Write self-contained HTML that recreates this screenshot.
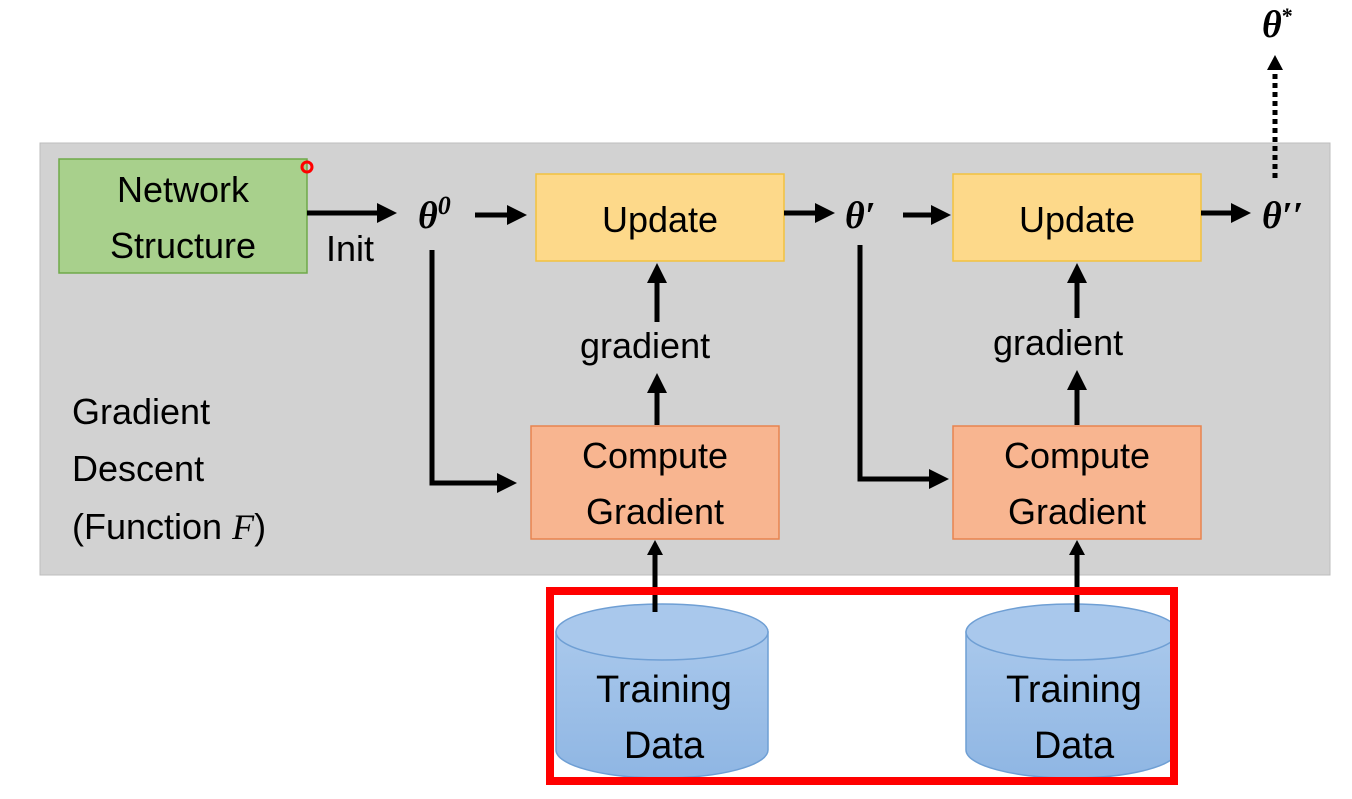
<!DOCTYPE html>
<html><head><meta charset="utf-8"><style>
html,body{margin:0;padding:0;background:#fff;}
svg{display:block;}
text{font-family:"Liberation Sans",sans-serif;fill:#000;}
.t{font-family:"Liberation Serif",serif;font-weight:bold;font-style:italic;}
</style></head><body>
<svg width="1352" height="799" viewBox="0 0 1352 799" xmlns="http://www.w3.org/2000/svg">
<defs>
<marker id="ah" markerWidth="4" markerHeight="4" refX="3" refY="2" orient="auto" markerUnits="strokeWidth">
<path d="M0,0 L4,2 L0,4 z" fill="#000"/></marker>
<linearGradient id="cyl" x1="0" x2="0" y1="0" y2="1"><stop offset="0" stop-color="#a9c8ec"/><stop offset="1" stop-color="#8fb6e3"/></linearGradient>
</defs>
<rect x="40" y="143" width="1290" height="432" fill="#d2d2d2" stroke="#bdbdbd"/>
<rect x="59" y="159" width="248" height="114" fill="#a8d08c" stroke="#6fa94a" stroke-width="1.5"/>
<text x="183" y="202" font-size="36" text-anchor="middle">Network</text>
<text x="183" y="258" font-size="36" text-anchor="middle">Structure</text>
<circle cx="307" cy="167" r="5" fill="none" stroke="#f00" stroke-width="3"/>
<rect x="536" y="174" width="248" height="87" fill="#fdd98a" stroke="#f2c140" stroke-width="1.5"/>
<text x="660" y="232" font-size="36" text-anchor="middle">Update</text>
<rect x="953" y="174" width="248" height="87" fill="#fdd98a" stroke="#f2c140" stroke-width="1.5"/>
<text x="1077" y="232" font-size="36" text-anchor="middle">Update</text>
<rect x="531" y="426" width="248" height="113" fill="#f8b590" stroke="#e8834f" stroke-width="1.5"/>
<text x="655" y="468" font-size="36" text-anchor="middle">Compute</text>
<text x="655" y="524" font-size="36" text-anchor="middle">Gradient</text>
<rect x="953" y="426" width="248" height="113" fill="#f8b590" stroke="#e8834f" stroke-width="1.5"/>
<text x="1077" y="468" font-size="36" text-anchor="middle">Compute</text>
<text x="1077" y="524" font-size="36" text-anchor="middle">Gradient</text>
<text x="72" y="424" font-size="36">Gradient</text>
<text x="72" y="481" font-size="36">Descent</text>
<text x="72" y="539" font-size="36">(Function <tspan font-family="Liberation Serif" font-style="italic">F</tspan>)</text>
<text x="326" y="261" font-size="36">Init</text>
<text x="580" y="358" font-size="36">gradient</text>
<text x="993" y="355" font-size="36">gradient</text>
<text class="t" x="418" y="228" font-size="38">θ<tspan font-size="26" dy="-14">0</tspan></text>
<text class="t" x="845" y="228" font-size="38">θ′</text>
<text class="t" x="1262" y="228" font-size="38">θ′′</text>
<text class="t" x="1262" y="37" font-size="38">θ<tspan font-size="22" dy="-14" font-style="normal">*</tspan></text>
<g stroke="#000" stroke-width="5" fill="none">
<line x1="307" y1="213" x2="392" y2="213" marker-end="url(#ah)"/>
<line x1="475" y1="215" x2="522" y2="215" marker-end="url(#ah)"/>
<line x1="784" y1="213" x2="830" y2="213" marker-end="url(#ah)"/>
<line x1="903" y1="215" x2="946" y2="215" marker-end="url(#ah)"/>
<line x1="1201" y1="213" x2="1246" y2="213" marker-end="url(#ah)"/>
<polyline points="432,250 432,483 512,483" marker-end="url(#ah)"/>
<polyline points="860,245 860,479 944,479" marker-end="url(#ah)"/>
<line x1="657" y1="425" x2="657" y2="378" marker-end="url(#ah)"/>
<line x1="657" y1="322" x2="657" y2="268" marker-end="url(#ah)"/>
<line x1="1077" y1="425" x2="1077" y2="375" marker-end="url(#ah)"/>
<line x1="1077" y1="318" x2="1077" y2="268" marker-end="url(#ah)"/>
<line x1="1275" y1="178" x2="1275" y2="68" stroke-dasharray="5,4"/>
</g>
<path d="M1267,70 L1275,55 L1283,70 z" fill="#000"/>
<g stroke="#6f9fd4" stroke-width="1.5" fill="url(#cyl)">
<path d="M556,632 L556,750 A106,28 0 0 0 768,750 L768,632 Z"/>
<ellipse cx="662" cy="632" rx="106" ry="28" fill="#a9c8ec"/>
<path d="M966,632 L966,750 A106,28 0 0 0 1178,750 L1178,632 Z"/>
<ellipse cx="1072" cy="632" rx="106" ry="28" fill="#a9c8ec"/>
</g>
<text x="664" y="702" font-size="38" text-anchor="middle">Training</text>
<text x="664" y="758" font-size="38" text-anchor="middle">Data</text>
<text x="1074" y="702" font-size="38" text-anchor="middle">Training</text>
<text x="1074" y="758" font-size="38" text-anchor="middle">Data</text>
<g stroke="#000" stroke-width="5">
<line x1="655" y1="612" x2="655" y2="552"/>
<line x1="1077" y1="612" x2="1077" y2="552"/>
</g>
<path d="M647,555 L655,540 L663,555 z M1069,555 L1077,540 L1085,555 z" fill="#000"/>
<rect x="550" y="591" width="624" height="190" fill="none" stroke="#f00" stroke-width="8"/>
<rect x="1176" y="595" width="10" height="190" fill="#fff"/>
<rect x="1174" y="587" width="4" height="198" fill="#f00"/>
</svg>
</body></html>
